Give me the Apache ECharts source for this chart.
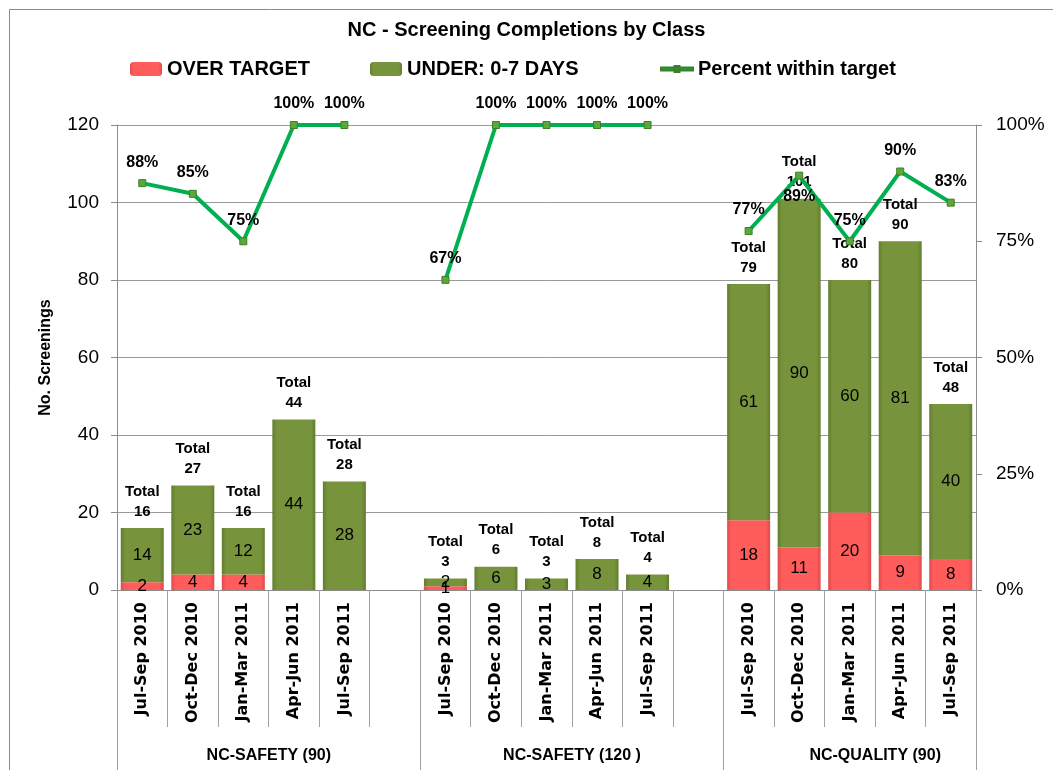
<!DOCTYPE html>
<html>
<head>
<meta charset="utf-8">
<script src="https://cdn.jsdelivr.net/npm/echarts@6/dist/echarts.min.js"></script>
<style>
html,body{margin:0;padding:0;background:#fff;}
#main{width:1053px;height:770px;}
</style>
</head>
<body>
<div id="main"></div>
<script>
// quarters per class, blank slot between classes
var quarters = ['Jul-Sep 2010','Oct-Dec 2010','Jan-Mar 2011','Apr-Jun 2011','Jul-Sep 2011','',
                'Jul-Sep 2010','Oct-Dec 2010','Jan-Mar 2011','Apr-Jun 2011','Jul-Sep 2011','',
                'Jul-Sep 2010','Oct-Dec 2010','Jan-Mar 2011','Apr-Jun 2011','Jul-Sep 2011'];
var classes = ['NC-SAFETY (90)','NC-SAFETY (120 )','NC-QUALITY (90)'];
var overTarget = [2,4,4,0,0,null, 1,0,0,0,0,null, 18,11,20,9,8];
var under7 = [14,23,12,44,28,null, 2,6,3,8,4,null, 61,90,60,81,40];
var totals = [16,27,16,44,28,null, 3,6,3,8,4,null, 79,101,80,90,48];
var pctWithin = [87.5,85.2,75,100,100,null, 66.7,100,100,100,100,null, 77.2,89.1,75,90,83.3];

var txt = "'Liberation Sans', Arial, sans-serif";
var gray = '#8c8c8c';

// class labels sit under the middle of each block of six slots
var classLabels = quarters.map(function(){ return ''; });
classes.forEach(function(c, i){ classLabels[i*6+2] = c; });

function barGrad(edge, mid){
	return new echarts.graphic.LinearGradient(0,0,1,0,[
		{offset:0,color:edge},{offset:0.1,color:mid},{offset:0.9,color:mid},{offset:1,color:edge}
	]);
}
function hideZero(p){ return (p.value === 0 || p.value == null) ? '' : p.value; }
function legendAt(item, left){
	return {
		data:[item], left:left, top:54,
		itemWidth:32, itemHeight:14,
		textStyle:{fontFamily:txt, fontWeight:'bold', fontSize:20, color:'#000'}
	};
}

var chart = echarts.init(document.getElementById('main'));
var option = {
	backgroundColor:'#fff',
	animation:false,
	textStyle:{fontFamily:txt},
	graphic:[{
		type:'rect', left:7, top:7, z:-10,
		shape:{width:1100, height:900},
		style:{fill:'none', stroke:'#8a8a8a', lineWidth:1}
	}],
	title:{
		text:'NC - Screening Completions by Class',
		left:'center', top:15,
		textStyle:{fontFamily:txt, fontWeight:'bold', fontSize:20, color:'#000'}
	},
	legend:[
		legendAt('OVER TARGET', 125),
		legendAt('UNDER: 0-7 DAYS', 365),
		legendAt({name:'Percent within target',
			icon:'path://M0,5.5L32,5.5L32,8.5L0,8.5ZM13.5,4L18.5,4L18.5,10L13.5,10Z',
			itemStyle:{color:'#00b050'}}, 655)
	],
	grid:{left:117, right:77, top:125, bottom:180, containLabel:false},
	xAxis:[{
		type:'category',
		data:quarters,
		axisLine:{show:true, lineStyle:{color:gray}},
		axisTick:{show:true, interval:0, length:137, lineStyle:{color:'#a0a0a0'}},
		axisLabel:{interval:0, rotate:90, margin:12, fontFamily:"'DejaVu Sans', Verdana, sans-serif",
			fontWeight:'bold', fontSize:16, color:'#000'}
	},{
		type:'category',
		data:classLabels,
		position:'bottom',
		axisLine:{show:false},
		axisTick:{show:true, interval:function(i){ return i % 6 === 0; }, length:180, lineStyle:{color:'#a0a0a0'}},
		axisLabel:{interval:0, margin:158, fontFamily:txt, fontWeight:'bold', fontSize:16, color:'#000',
			padding:[0,0,0,51]}
	}],
	yAxis:[{
		type:'value', min:0, max:120, interval:20,
		name:'No. Screenings', nameLocation:'middle', nameGap:63,
		nameTextStyle:{fontFamily:txt, fontWeight:'bold', fontSize:16, color:'#000'},
		axisLine:{show:true, lineStyle:{color:gray}},
		axisTick:{show:true, length:6, lineStyle:{color:gray}},
		axisLabel:{margin:18, fontFamily:txt, fontSize:19, color:'#000'},
		splitLine:{lineStyle:{color:'#999'}}
	},{
		type:'value', min:0, max:100, interval:25,
		axisLine:{show:true, lineStyle:{color:gray}},
		axisTick:{show:true, length:6, lineStyle:{color:gray}},
		axisLabel:{margin:20, formatter:'{value}%', fontFamily:txt, fontSize:19, color:'#000'},
		splitLine:{show:false}
	}],
	series:[{
		name:'OVER TARGET', type:'bar', stack:'n', barWidth:43,
		data:overTarget,
		itemStyle:{color:barGrad('#e04a4a','#ff5c5c')},
		label:{show:true, position:'inside', formatter:hideZero, fontFamily:txt, fontSize:17, color:'#000'}
	},{
		name:'UNDER: 0-7 DAYS', type:'bar', stack:'n', barWidth:43,
		data:under7,
		itemStyle:{color:barGrad('#627d2d','#77933c')},
		label:{show:true, position:'inside', formatter:hideZero, fontFamily:txt, fontSize:17, color:'#000'}
	},{
		name:'Total', type:'scatter', symbolSize:1, silent:true,
		data:totals,
		itemStyle:{color:'rgba(0,0,0,0)', opacity:1},
		label:{show:true, position:'top', distance:6, lineHeight:20,
			formatter:function(p){ return 'Total\n' + p.value; },
			fontFamily:txt, fontWeight:'bold', fontSize:15, color:'#000'}
	},{
		name:'Percent within target', type:'line', yAxisIndex:1, z:5,
		data:pctWithin.map(function(v, i){ return i === 13 ? {value:v, label:{position:'bottom'}} : v; }),
		connectNulls:false,
		lineStyle:{color:'#00b050', width:4},
		itemStyle:{color:'#5aa83a', borderColor:'#3f7f2a', borderWidth:1},
		symbol:'rect', symbolSize:7,
		label:{show:true, position:'top', distance:9,
			formatter:function(p){ return Math.round(p.value) + '%'; },
			fontFamily:txt, fontWeight:'bold', fontSize:16, color:'#000'}
	}]
};
chart.setOption(option);
</script>
</body>
</html>
